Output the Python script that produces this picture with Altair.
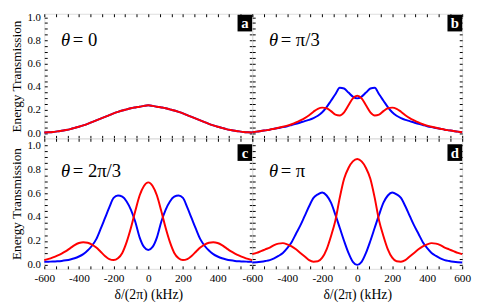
import altair as alt
import pandas as pd

# detuning grid (kHz)
X = [-600, -575, -550, -525, -500, -475, -450, -425, -400, -375, -350, -325, -300,
     -275, -250, -225, -200, -175, -150, -125, -100, -75, -50, -25, 0,
     25, 50, 75, 100, 125, 150, 175, 200, 225, 250, 275, 300,
     325, 350, 375, 400, 425, 450, 475, 500, 525, 550, 575, 600]

# panel a : theta = 0 (both curves coincide)
A_BLUE = [0.005, 0.007, 0.01, 0.015, 0.02, 0.027, 0.035, 0.045, 0.055, 0.067, 0.08, 0.095, 0.11,
          0.125, 0.14, 0.155, 0.17, 0.183, 0.195, 0.205, 0.215, 0.222, 0.228, 0.235, 0.24,
          0.235, 0.228, 0.222, 0.215, 0.205, 0.195, 0.183, 0.17, 0.155, 0.14, 0.125, 0.11,
          0.095, 0.08, 0.067, 0.055, 0.045, 0.035, 0.027, 0.02, 0.015, 0.01, 0.007, 0.005]
A_RED = [0.005, 0.007, 0.01, 0.015, 0.02, 0.027, 0.035, 0.045, 0.055, 0.067, 0.08, 0.095, 0.11,
         0.125, 0.14, 0.155, 0.17, 0.183, 0.195, 0.205, 0.215, 0.222, 0.228, 0.235, 0.24,
         0.235, 0.228, 0.222, 0.215, 0.205, 0.195, 0.183, 0.17, 0.155, 0.14, 0.125, 0.11,
         0.095, 0.08, 0.067, 0.055, 0.045, 0.035, 0.027, 0.02, 0.015, 0.01, 0.007, 0.005]

# panel b : theta = pi/3
B_BLUE = [0.008, 0.013, 0.018, 0.024, 0.03, 0.038, 0.045, 0.052, 0.06, 0.07, 0.08, 0.092, 0.104,
          0.115, 0.13, 0.15, 0.18, 0.225, 0.28, 0.335, 0.392, 0.385, 0.35, 0.315, 0.30,
          0.315, 0.35, 0.385, 0.392, 0.335, 0.28, 0.225, 0.18, 0.15, 0.13, 0.115, 0.104,
          0.092, 0.08, 0.07, 0.06, 0.052, 0.045, 0.038, 0.03, 0.024, 0.018, 0.013, 0.008]
B_RED = [0.008, 0.013, 0.018, 0.024, 0.03, 0.038, 0.046, 0.055, 0.065, 0.077, 0.092, 0.11, 0.13,
         0.155, 0.185, 0.21, 0.22, 0.215, 0.19, 0.16, 0.153, 0.18, 0.24, 0.30, 0.323,
         0.30, 0.24, 0.18, 0.153, 0.16, 0.19, 0.215, 0.22, 0.21, 0.185, 0.155, 0.13,
         0.11, 0.092, 0.077, 0.065, 0.055, 0.046, 0.038, 0.03, 0.024, 0.018, 0.013, 0.008]

# panel c : theta = 2pi/3
C_BLUE = [0.026, 0.027, 0.028, 0.03, 0.033, 0.038, 0.045, 0.055, 0.07, 0.09, 0.12, 0.16, 0.215,
          0.30, 0.39, 0.48, 0.56, 0.58, 0.57, 0.53, 0.46, 0.36, 0.23, 0.15, 0.125,
          0.15, 0.23, 0.36, 0.46, 0.53, 0.57, 0.58, 0.56, 0.48, 0.39, 0.30, 0.215,
          0.16, 0.12, 0.09, 0.07, 0.055, 0.045, 0.038, 0.033, 0.03, 0.028, 0.027, 0.026]
C_RED = [0.04, 0.05, 0.063, 0.078, 0.095, 0.115, 0.14, 0.165, 0.183, 0.19, 0.185, 0.17, 0.145,
         0.11, 0.075, 0.048, 0.04, 0.055, 0.10, 0.19, 0.31, 0.45, 0.58, 0.66, 0.69,
         0.66, 0.58, 0.45, 0.31, 0.19, 0.10, 0.055, 0.04, 0.048, 0.075, 0.11, 0.145,
         0.17, 0.185, 0.19, 0.183, 0.165, 0.14, 0.115, 0.095, 0.078, 0.063, 0.05, 0.04]

# panel d : theta = pi
D_BLUE = [0.02, 0.022, 0.026, 0.032, 0.04, 0.055, 0.075, 0.10, 0.14, 0.19, 0.26, 0.33, 0.41,
          0.49, 0.56, 0.59, 0.605, 0.58, 0.52, 0.42, 0.31, 0.20, 0.10, 0.025, 0.0,
          0.025, 0.10, 0.20, 0.31, 0.42, 0.52, 0.58, 0.605, 0.59, 0.56, 0.49, 0.41,
          0.33, 0.26, 0.19, 0.14, 0.10, 0.075, 0.055, 0.04, 0.032, 0.026, 0.022, 0.02]
D_RED = [0.09, 0.10, 0.115, 0.13, 0.145, 0.165, 0.178, 0.182, 0.172, 0.155, 0.13, 0.10, 0.07,
         0.04, 0.027, 0.03, 0.06, 0.13, 0.24, 0.37, 0.56, 0.72, 0.81, 0.865, 0.886,
         0.865, 0.81, 0.72, 0.56, 0.37, 0.24, 0.13, 0.06, 0.03, 0.027, 0.04, 0.07,
         0.10, 0.13, 0.155, 0.172, 0.182, 0.178, 0.165, 0.145, 0.13, 0.115, 0.10, 0.09]

PANELS = ["a", "b", "c", "d"]
THETA_TEXT = ["= 0", "= π/3", "= 2π/3", "= π"]
SERIES = {"a": (A_BLUE, A_RED), "b": (B_BLUE, B_RED), "c": (C_BLUE, C_RED), "d": (D_BLUE, D_RED)}

X_LABEL_VALUES = [-600, -400, -200, 0, 200, 400, 600]
Y_LABEL_VALUES = [0.0, 0.2, 0.4, 0.6, 0.8, 1.0]
X_TICKS = [-600 + i * 200 / 3 for i in range(19)]
Y_TICKS = [round(i * 0.05, 2) for i in range(21)]

rows = []
for p in PANELS:
    blue, red = SERIES[p]
    for xv, yv in zip(X, blue):
        rows.append({"panel": p, "x": xv, "y": yv, "series": "blue"})
    for xv, yv in zip(X, red):
        rows.append({"panel": p, "x": xv, "y": yv, "series": "red"})
df = pd.DataFrame(rows)

FONT = "Times New Roman, Liberation Serif, DejaVu Serif, serif"
xs = alt.Scale(domain=[-600, 600], nice=False, zero=False)


def tick_axis(orient, off, values):
    return alt.Axis(orient=orient, offset=off, values=values, labels=False, domain=False,
                    grid=False, ticks=True, tickSize=3, tickColor="black", tickWidth=1, title=None)


def panel(p, idx, w, h, ydom, show_x, show_y, xvals):
    ys = alt.Scale(domain=ydom, nice=False, zero=False)
    src = alt.Chart(df[df.panel == p])
    if show_x:
        xaxis = alt.Axis(orient="bottom", values=xvals, ticks=False, domain=False, grid=False,
                         labelFontSize=11.5, labelPadding=4, labelColor="black",
                         labelFlush=False, labelOverlap=False, labelFont=FONT,
                         labelExpr="replace(datum.label, '\u2212', '-')",
                         title="δ/(2π) (kHz)", titleFontSize=14, titleFontWeight="normal",
                         titlePadding=4, titleColor="black", titleFont=FONT)
    else:
        xaxis = None
    if show_y:
        yaxis = alt.Axis(orient="left", values=Y_LABEL_VALUES, format=".1f", ticks=False,
                         domain=False, grid=False, labelFontSize=11, labelPadding=4,
                         labelColor="black", labelFont=FONT, labelFlush=False,
                         labelOverlap=False, title="Energy Transmission", titleFontSize=13.5,
                         titleFontWeight="normal", titlePadding=4, titleColor="black",
                         titleFont=FONT)
    else:
        yaxis = None
    lines = src.mark_line(strokeWidth=2, interpolate="monotone").encode(
        x=alt.X("x:Q", scale=xs, axis=xaxis),
        y=alt.Y("y:Q", scale=ys, axis=yaxis),
        color=alt.Color("series:N", scale=alt.Scale(domain=["blue", "red"],
                                                    range=["#0000ff", "#ff0000"]), legend=None),
    )
    t_bottom_left = src.mark_point(opacity=0).encode(
        x=alt.X("x:Q", scale=xs, axis=tick_axis("top", -h, X_TICKS)),
        y=alt.Y("y:Q", scale=ys, axis=tick_axis("right", -w, Y_TICKS)),
    )
    t_top_right = src.mark_point(opacity=0).encode(
        x=alt.X("x:Q", scale=xs, axis=tick_axis("bottom", -h, X_TICKS)),
        y=alt.Y("y:Q", scale=ys, axis=tick_axis("left", -w, Y_TICKS)),
    )
    one = alt.Chart(pd.DataFrame({"k": [p]}))
    top_off = 1 if idx < 2 else 6
    box = one.mark_rect(color="black").encode(
        x=alt.value(w - 15), x2=alt.value(w), y=alt.value(top_off), y2=alt.value(top_off + 17))
    letter = one.mark_text(color="white", font=FONT, fontSize=15, fontWeight="bold",
                           align="center", baseline="middle").encode(
        x=alt.value(w - 7.5), y=alt.value(top_off + 9), text="k:N")
    base_y = 33 if idx < 2 else 39
    th = one.mark_text(text="θ", font=FONT, fontSize=19, fontStyle="italic", color="black",
                       align="left", baseline="alphabetic").encode(
        x=alt.value(17), y=alt.value(base_y))
    rest = one.mark_text(text=THETA_TEXT[idx], font=FONT, fontSize=19, color="black",
                         align="left", baseline="alphabetic").encode(
        x=alt.value(29), y=alt.value(base_y))
    return alt.layer(lines, t_bottom_left, t_top_right, box, letter, th, rest).resolve_axis(
        x="independent", y="independent").properties(width=w, height=h)


TOP_H, BOT_H = 127, 133
TOP_DOM, BOT_DOM = [-0.045, 1.03], [-0.033, 1.058]

pa = panel("a", 0, 212, TOP_H, TOP_DOM, False, True, X_LABEL_VALUES)
pb = panel("b", 1, 214, TOP_H, TOP_DOM, False, False, X_LABEL_VALUES)
pc = panel("c", 2, 212, BOT_H, BOT_DOM, True, True, X_LABEL_VALUES[:-1])
pd_ = panel("d", 3, 214, BOT_H, BOT_DOM, True, False, X_LABEL_VALUES)

chart = alt.concat(pa, pb, pc, pd_, columns=2, spacing=0, bounds="flush").properties(
    padding={"left": 0, "top": 0, "right": 0, "bottom": 0}
).configure_view(stroke="black", strokeWidth=1).configure(font=FONT)

chart.save("out.html", embed_options={"renderer": "svg", "actions": False})
